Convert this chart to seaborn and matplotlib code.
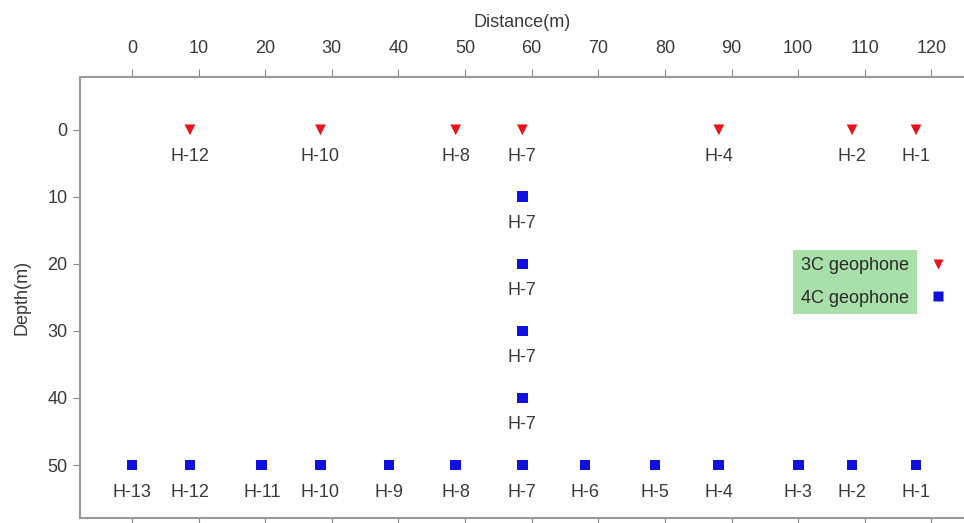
import matplotlib
matplotlib.use('Agg')
import matplotlib.pyplot as plt
import seaborn as sns
import pandas as pd

# 3C geophones at the surface (depth 0)
g3_x = [8.7, 28.3, 48.6, 58.6, 88.1, 108.1, 117.7]
g3_depth = [0, 0, 0, 0, 0, 0, 0]
g3_names = ['H-12', 'H-10', 'H-8', 'H-7', 'H-4', 'H-2', 'H-1']

# 4C geophones: vertical array in H-7 and bottom row at 50 m
g4_x = [58.6, 58.6, 58.6, 58.6,
        0, 8.7, 19.5, 28.3, 38.6, 48.6, 58.6, 68.0, 78.5, 88.1, 100.0, 108.1, 117.7]
g4_depth = [10, 20, 30, 40,
            50, 50, 50, 50, 50, 50, 50, 50, 50, 50, 50, 50, 50]
g4_names = ['H-7', 'H-7', 'H-7', 'H-7',
            'H-13', 'H-12', 'H-11', 'H-10', 'H-9', 'H-8', 'H-7', 'H-6', 'H-5',
            'H-4', 'H-3', 'H-2', 'H-1']

x_ticks = [0, 10, 20, 30, 40, 50, 60, 70, 80, 90, 100, 110, 120]
y_ticks = [0, 10, 20, 30, 40, 50]

df = pd.concat([
    pd.DataFrame({'x': g3_x, 'depth': g3_depth, 'name': g3_names, 'type': '3C geophone'}),
    pd.DataFrame({'x': g4_x, 'depth': g4_depth, 'name': g4_names, 'type': '4C geophone'}),
], ignore_index=True)

sns.set_style('white')
plt.rcParams['font.family'] = ['Liberation Sans Narrow', 'Liberation Sans', 'DejaVu Sans']

fig = plt.figure(figsize=(9.64, 5.23), dpi=100)
ax = fig.add_axes([0.083, 0.0096, 0.917, 0.8434])

sns.scatterplot(data=df, x='x', y='depth', hue='type', style='type',
                palette={'3C geophone': '#e8121a', '4C geophone': '#1010e0'},
                markers={'3C geophone': 'v', '4C geophone': 's'},
                s=60, edgecolor='none', ax=ax)

for _, r in df.iterrows():
    ax.annotate(r['name'], (r['x'], r['depth']), xytext=(0, -27),
                textcoords='offset pixels', ha='center', va='center',
                fontsize=13, color='#3a3a3a')

ax.set_xlim(-7.8, 124.9)
ax.set_ylim(57.9, -7.9)
ax.set_xticks(x_ticks)
ax.set_yticks(y_ticks)
ax.xaxis.set_ticks_position('both')
ax.xaxis.set_label_position('top')
ax.tick_params(axis='x', top=True, labeltop=True, bottom=True, labelbottom=False,
               direction='out', length=6, color='#888888', labelsize=13,
               labelcolor='#3a3a3a', pad=8)
ax.tick_params(axis='y', left=True, direction='out', length=5, color='#888888',
               labelsize=13, labelcolor='#3a3a3a', pad=4)
ax.set_xlabel('Distance(m)', fontsize=13, color='#3a3a3a', labelpad=10)
ax.set_ylabel('Depth(m)', fontsize=13, color='#3a3a3a', labelpad=12)

for side in ['top', 'left', 'bottom']:
    ax.spines[side].set_color('#999999')
    ax.spines[side].set_linewidth(1.5)
ax.spines['right'].set_visible(False)

leg = ax.legend(loc='center right', bbox_to_anchor=(0.997, 0.535), markerfirst=False,
                frameon=False, fontsize=13, handletextpad=1.2, labelspacing=0.85,
                handlelength=0.8)
for t in leg.get_texts():
    t.set_color('#2a2a2a')
    t.set_bbox(dict(facecolor='#a9e0a9', edgecolor='none', pad=5.5))

fig.savefig('out.png', dpi=100)
